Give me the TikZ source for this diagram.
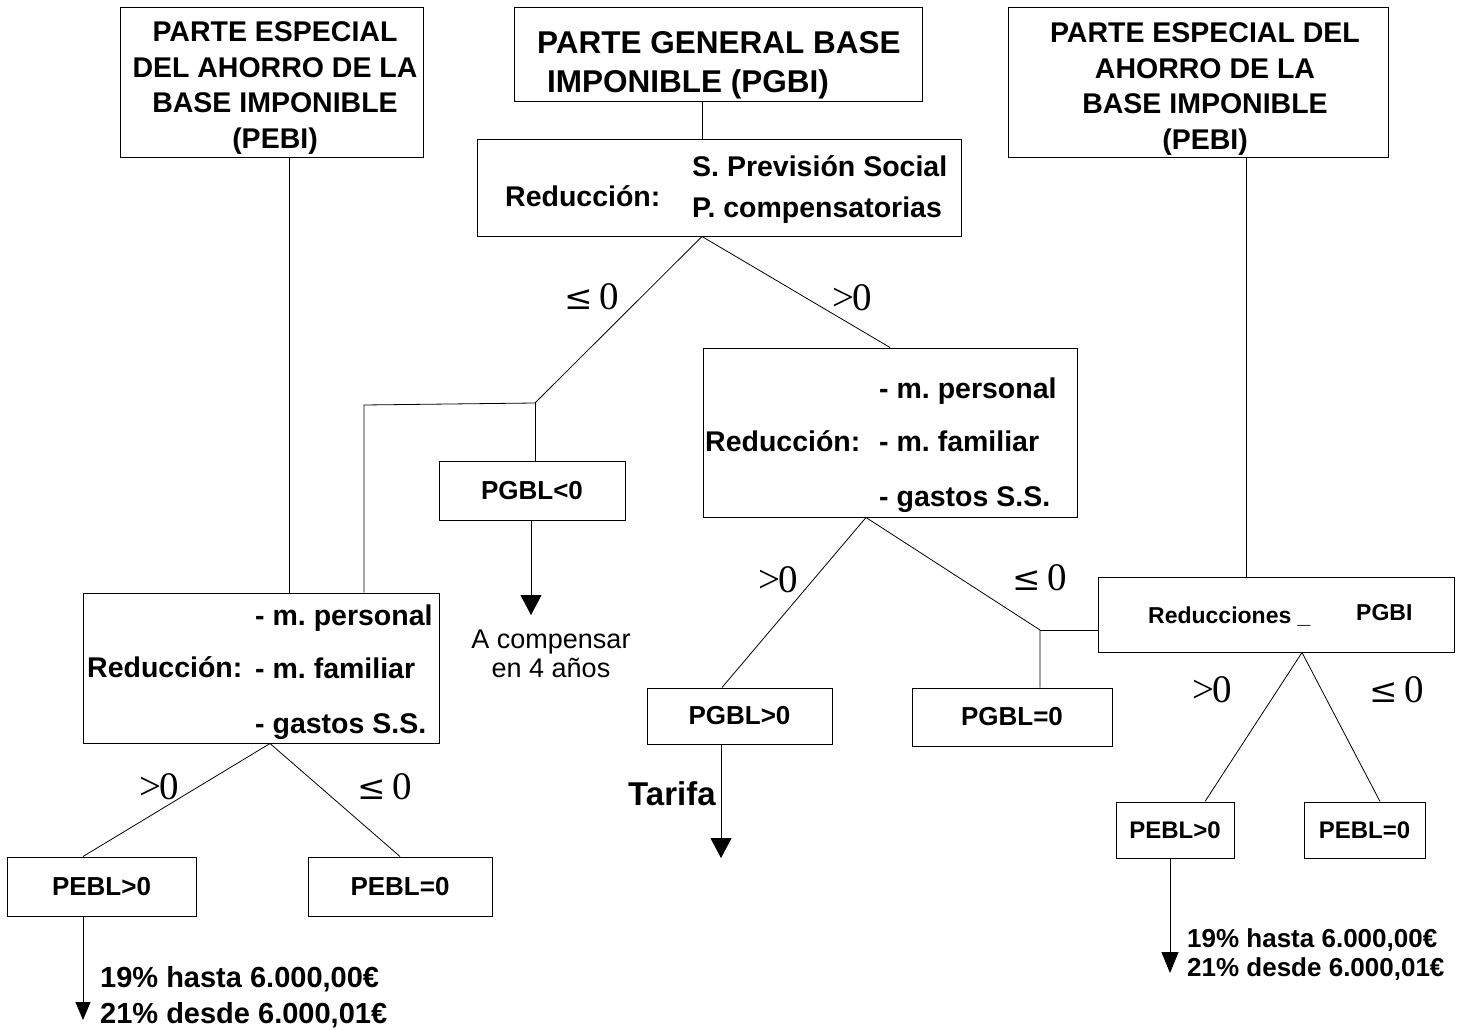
\documentclass[tikz,border=0pt]{standalone}
\usepackage{fontspec}
\setmainfont{Liberation Sans}
\newfontfamily\condfont{Liberation Serif}
\newfontfamily\relfont{DejaVu Serif}
\usetikzlibrary{arrows.meta}
\frenchspacing

\tikzset{
  box/.style={draw, line width=1pt, inner sep=0pt},
  small/.style={box, font=\bfseries\fontsize{26}{30}\selectfont},
  lbl/.style={inner sep=0pt, font=\bfseries\fontsize{28.5}{35.5}\selectfont},
  cond/.style={inner sep=0pt, anchor=base, font=\condfont\fontsize{39}{39}\selectfont},
  link/.style={line width=0.8pt},
  flecha/.style={line width=0.8pt, -{Triangle[width=21pt,length=20pt]}}
}
\newcommand{\menorig}{{\relfont\fontsize{34}{34}\selectfont ≤}\,0}
\newcommand{\mayor}{>\kern-2pt0}

\begin{document}
\begin{tikzpicture}[x=1pt,y=-1pt]
\useasboundingbox[fill=white] (0,0) rectangle (1468,1030);

\node[box, minimum width=303pt, minimum height=150pt] (pebiL) at (271.5,83) {};
\node[lbl, align=center, anchor=north] (pebiLt) at (275,21.7) {PARTE ESPECIAL\\DEL AHORRO DE LA\\BASE IMPONIBLE\\(PEBI)};
\node[box, minimum width=408pt, minimum height=94pt] (pgbi) at (718,55) {};
\node[lbl, align=left, anchor=north west, font=\bfseries\fontsize{31.5}{38.7}\selectfont] (pgbit) at (537,31.7) {PARTE GENERAL BASE\\\hspace*{10pt}IMPONIBLE (PGBI)};
\node[box, minimum width=380pt, minimum height=150pt] (pebiR) at (1198,83) {};
\node[lbl, align=center, anchor=north] (pebiRt) at (1205,22.7) {PARTE ESPECIAL DEL\\AHORRO DE LA\\BASE IMPONIBLE\\(PEBI)};

\node[box, minimum width=484pt, minimum height=96pt] (redC) at (719,188) {};
\node[lbl, anchor=base west] (redCt) at (505,207) {Reducción:};
\node[lbl, anchor=base west] (redC1) at (692,177) {S. Previsión Social};
\node[lbl, anchor=base west] (redC2) at (692,218) {P. compensatorias};

\node[box, minimum width=374pt, minimum height=169pt] (redF) at (890,432.5) {};
\node[box, minimum width=356pt, minimum height=150pt] (redE) at (261,668) {};
\node[lbl, anchor=base west] (redFt) at (705,451) {Reducción:};
\node[lbl, anchor=base west] (redEt) at (87,677) {Reducción:};
\foreach \b/\x/\y in {redE/255/625, redF/879/398}{
  \node[lbl, anchor=base west] (\b1) at (\x,\y) {- m. personal};
  \node[lbl, anchor=base west] (\b2) at (\x,\y+53) {- m. familiar};
  \node[lbl, anchor=base west] (\b3) at (\x,\y+108) {- gastos S.S.};
}

\node[small, minimum width=186pt, minimum height=59pt] (pgblN) at (532,490.5) {PGBL<0};
\node[small, minimum width=185pt, minimum height=56pt] (pgblP) at (739.5,716) {PGBL>0};
\node[small, minimum width=200pt, minimum height=58pt] (pgblZ) at (1012,717) {PGBL=0};
\node[small, minimum width=189pt, minimum height=59pt] (peblP) at (101.5,886.5) {PEBL>0};
\node[small, minimum width=184pt, minimum height=59pt] (peblZ) at (400,886.5) {PEBL=0};
\node[box, minimum width=356pt, minimum height=75pt] (reduc) at (1276,614.5) {};
\node[lbl, anchor=base west, font=\bfseries\fontsize{23}{27}\selectfont] (reduct) at (1148,623) {Reducciones \_};
\node[lbl, anchor=base west, font=\bfseries\fontsize{23}{27}\selectfont] (reducg) at (1356,620) {PGBI};
\node[small, minimum width=118pt, minimum height=56pt, font=\bfseries\fontsize{24}{28}\selectfont] (peblPR) at (1175,830) {PEBL>0};
\node[small, minimum width=121pt, minimum height=56pt, font=\bfseries\fontsize{24}{28}\selectfont] (peblZR) at (1364.5,830) {PEBL=0};

\node[inner sep=0pt, anchor=north, align=center, font=\fontsize{27}{29}\selectfont] (comp) at (551,630) {A compensar\\en 4 años};
\node[lbl, anchor=base west, font=\bfseries\fontsize{33}{33}\selectfont] (tarifa) at (628,805) {Tarifa};
\node[lbl, anchor=north west, align=left, font=\bfseries\fontsize{29}{36}\selectfont] (tipoL) at (100,966) {19\% hasta 6.000,00€\\21\% desde 6.000,01€};
\node[lbl, anchor=north west, align=left, font=\bfseries\fontsize{26}{29.5}\selectfont] (tipoR) at (1187,928) {19\% hasta 6.000,00€\\21\% desde 6.000,01€};

\coordinate (jL) at (535,403);
\coordinate (kL) at (364,405);
\coordinate (jR) at (1040,630);
\draw[link] ([xshift=-16pt]pgbi.south) -- ([xshift=-17pt]redC.north);
\draw[link] ([xshift=-17pt]redC.south) -- (jL) -- (kL) -- (kL |- redE.north);
\draw[link] (jL) -- (jL |- pgblN.north);
\draw[link] ([xshift=-17pt]redC.south) -- (redF.north);
\draw[link] ([xshift=17.5pt]pebiL.south) -- ([xshift=17.5pt]pebiL.south |- redE.north);
\draw[link] ([xshift=-24pt]redF.south) -- ([xshift=-17.5pt]pgblP.north);
\draw[link] ([xshift=-24pt]redF.south) -- (jR) -- (jR |- pgblZ.north);
\draw[link] (jR) -- (jR -| reduc.west);
\draw[link] ([xshift=48pt]pebiR.south) -- ([xshift=48pt]pebiR.south |- reduc.north);
\draw[link] ([xshift=26pt]reduc.south) -- ([xshift=30pt]peblPR.north);
\draw[link] ([xshift=26pt]reduc.south) -- ([xshift=15.5pt]peblZR.north);
\draw[link] ([xshift=9pt]redE.south) -- ([xshift=-18.5pt]peblP.north);
\draw[link] ([xshift=9pt]redE.south) -- (peblZ.north);

\coordinate (tipN) at (531,615);
\coordinate (tipT) at (721,858);
\coordinate (tipL) at (83,1020);
\coordinate (tipR) at (1170,973);
\draw[flecha] (tipN |- pgblN.south) -- (tipN);
\draw[flecha] (tipT |- pgblP.south) -- (tipT);
\draw[line width=0.8pt, -{Triangle[width=15pt,length=18pt]}] (tipL |- peblP.south) -- (tipL);
\draw[line width=0.8pt, -{Triangle[width=17pt,length=21pt]}] (tipR |- peblPR.south) -- (tipR);

\node[cond] (c1) at (592,309) {\menorig};
\node[cond] (c2) at (852,310) {\mayor};
\node[cond] (c3) at (778,592) {\mayor};
\node[cond] (c4) at (1040,590) {\menorig};
\node[cond] (c5) at (159,799) {\mayor};
\node[cond] (c6) at (385,799) {\menorig};
\node[cond] (c7) at (1212,702) {\mayor};
\node[cond] (c8) at (1397,702) {\menorig};
\end{tikzpicture}
\end{document}
